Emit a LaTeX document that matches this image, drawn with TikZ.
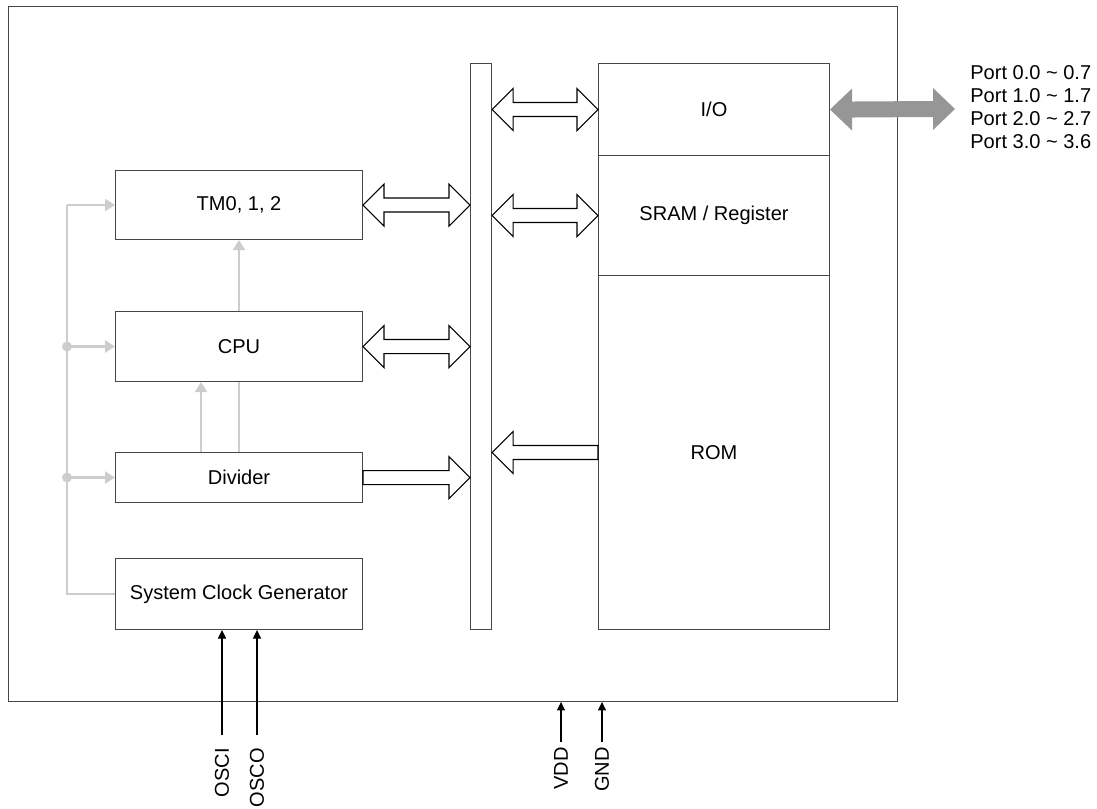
\documentclass[tikz,border=0pt]{standalone}
\usepackage{fontspec}
\setmainfont{Liberation Sans}
\usepackage{tikz}
\usetikzlibrary{arrows.meta, positioning, calc}
\definecolor{edgegray}{RGB}{70, 70, 70}
\definecolor{clkgray}{RGB}{205, 205, 205}
\definecolor{portgray}{RGB}{150, 150, 150}

\tikzset{
  block/.style={draw=edgegray, line width=0.6pt, rectangle, anchor=north west, inner sep=0pt,
                minimum width=4.94cm, font=\fontsize{11.4}{13.1}\selectfont},
  memblock/.style={block, minimum width=4.62cm},
  clkline/.style={draw=clkgray, line width=1.2pt},
  clkarrow/.style={clkline, -{Triangle[length=2mm, width=2.4mm]}},
  pinarrow/.style={line width=0.6pt, -{Triangle[length=1.7mm, width=1.6mm]}},
  pinlabel/.style={rotate=90, anchor=east, inner sep=0pt, font=\fontsize{11.4}{13.1}\selectfont},
  busarrow/.style={draw=black, line width=0.6pt, fill=white, line join=miter},
}

% hollow two-way bus arrow from #1 to #2 (same height)
\newcommand{\dblbus}[2]{%
  \draw[busarrow] (#1) -- ($(#1)+(21,-21)$) -- ($(#1)+(21,-7)$) -- ($(#2)+(-21,-7)$)
    -- ($(#2)+(-21,-21)$) -- (#2) -- ($(#2)+(-21,21)$) -- ($(#2)+(-21,7)$)
    -- ($(#1)+(21,7)$) -- ($(#1)+(21,21)$) -- cycle;}
% hollow one-way bus arrow, tail #1, tip #2, #3 = 1 (right) or -1 (left)
\newcommand{\onebus}[3]{%
  \draw[busarrow] ($(#1)+(0,-7)$) -- ($(#2)+(-21*#3,-7)$) -- ($(#2)+(-21*#3,-21)$) -- (#2)
    -- ($(#2)+(-21*#3,21)$) -- ($(#2)+(-21*#3,7)$) -- ($(#1)+(0,7)$) -- cycle;}

\begin{document}
\begin{tikzpicture}[x=0.02cm, y=-0.02cm]
    \useasboundingbox (0,0) rectangle (1097,808);

    % Chip outline
    \node[draw=edgegray, line width=0.6pt, rectangle, anchor=north west, inner sep=0pt,
          minimum width=17.78cm, minimum height=13.9cm] (chip) at (8,6) {};

    % Left column
    \node[block, minimum height=1.38cm] (tm) at (115,170) {TM0, 1, 2};
    \node[block, minimum height=1.40cm] (cpu) at (115,311) {CPU};
    \node[block, minimum height=1.00cm] (divider) at (115,452) {Divider};
    \node[block, minimum height=1.42cm] (scg) at (115,558) {System Clock Generator};

    % Internal bus
    \node[block, minimum width=0.42cm, minimum height=11.32cm] (bus) at (470,63) {};

    % Memory / IO column
    \node[memblock, minimum height=1.84cm] (io) at (598,63) {I/O};
    \node[memblock, minimum height=2.40cm] (sram) at (598,155) {SRAM / Register};
    \node[memblock, minimum height=7.08cm] (rom) at (598,275) {ROM};

    % Bus connections
    \dblbus{bus.east |- io.west}{io.west}
    \dblbus{bus.east |- sram.west}{sram.west}
    \dblbus{tm.east}{tm.east -| bus.west}
    \dblbus{cpu.east}{cpu.east -| bus.west}
    \onebus{divider.east}{divider.east -| bus.west}{1}
    \onebus{rom.west}{rom.west -| bus.east}{-1}

    % Clock distribution
    \coordinate (rail) at (67,0);
    \draw[clkline] (scg.west) -- (scg.west -| rail) -- (tm.west -| rail);
    \draw[clkarrow] (tm.west -| rail) -- (tm.west);
    \draw[clkarrow] (cpu.west -| rail) -- (cpu.west);
    \draw[clkarrow] (divider.west -| rail) -- (divider.west);
    \fill[clkgray] (cpu.west -| rail) circle (5);
    \fill[clkgray] (divider.west -| rail) circle (5);
    \draw[clkarrow] (cpu.north) -- (tm.south);
    \draw[clkline] (divider.north) -- (cpu.south);
    \draw[clkarrow] ($(divider.north)+(-38,0)$) -- ($(cpu.south)+(-38,0)$);

    % Ports
    \coordinate (portend) at (955,109);
    \fill[portgray] (io.east) -- ($(io.east)+(22,-21)$) -- ($(io.east)+(22,-8)$) -- ($(portend)+(-22,-8)$)
        -- ($(portend)+(-22,-21)$) -- (portend) -- ($(portend)+(-22,21)$) -- ($(portend)+(-22,8)$)
        -- ($(io.east)+(22,8)$) -- ($(io.east)+(22,21)$) -- cycle;
    \node[anchor=west, align=left, inner sep=0pt, font=\fontsize{11.4}{13.1}\selectfont] (ports) at (970,107)
        {Port 0.0 \textasciitilde{} 0.7\\Port 1.0 \textasciitilde{} 1.7\\Port 2.0 \textasciitilde{} 2.7\\Port 3.0 \textasciitilde{} 3.6};

    % Pins
    \node[pinlabel] (osci) at (222,748) {OSCI};
    \node[pinlabel] (osco) at (257,748) {OSCO};
    \node[pinlabel] (vdd) at (561,747) {VDD};
    \node[pinlabel] (gnd) at (602,747) {GND};
    \draw[pinarrow] ($(osci.east)+(0,-13)$) -- (osci |- scg.south);
    \draw[pinarrow] ($(osco.east)+(0,-13)$) -- (osco |- scg.south);
    \draw[pinarrow] ($(vdd.east)+(0,-5)$) -- (vdd |- chip.south);
    \draw[pinarrow] ($(gnd.east)+(0,-5)$) -- (gnd |- chip.south);
  \end{tikzpicture}
\end{document}
